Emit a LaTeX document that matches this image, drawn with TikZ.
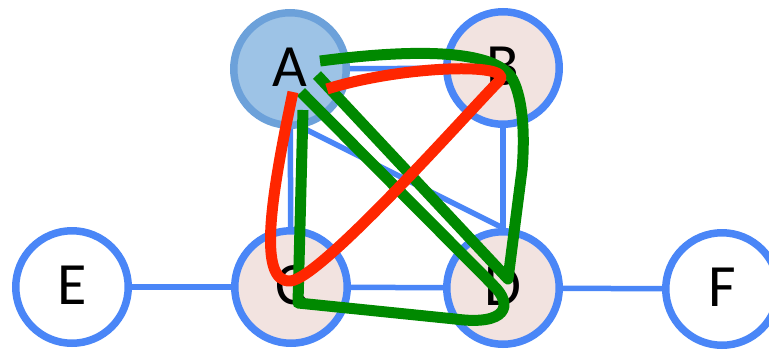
\documentclass[tikz,border=0pt]{standalone}
\usepackage{fontspec}
\setmainfont{Carlito}
\definecolor{eblue}{RGB}{74,134,247}
\definecolor{pinkf}{RGB}{242,227,224}
\definecolor{afill}{RGB}{157,195,230}
\definecolor{astroke}{RGB}{108,161,218}
\definecolor{tgreen}{RGB}{0,137,0}
\definecolor{tred}{RGB}{255,38,0}
\begin{document}
\begin{tikzpicture}[x=1pt,y=-1pt,
  vert/.style={circle,draw=eblue,fill=pinkf,line width=7.5pt,minimum size=112.5pt,inner sep=0pt,font=\fontsize{60}{60}\selectfont},
  edge/.style={draw=eblue,line width=5.5pt},
  gpath/.style={draw=tgreen,line width=11pt,line join=round},
  rpath/.style={draw=tred,line width=11pt,line join=round}]
\useasboundingbox (0,0) rectangle (769,349);
% vertices
\node[vert,fill=afill,draw=astroke] (A) at (290,69) {\raisebox{3pt}{A}};
\node[vert] (B) at (503,68) {\raisebox{3pt}{B}};
\node[vert] (C) at (291,287) {\raisebox{3pt}{C}};
\node[vert] (D) at (503,288) {\raisebox{3pt}{D}};
\node[vert,fill=white] (E) at (72,287) {\raisebox{3pt}{E}};
\node[vert,fill=white] (F) at (722,289) {\raisebox{3pt}{F}};
% edges
\draw[edge] (A) -- (B);
\draw[edge] (A) -- (C);
\draw[edge] (A.-78) -- (D.90);
\draw[edge] (B) -- (D);
\draw[edge] (C) -- (D);
\draw[edge] (E) -- (C);
\draw[edge] (D) -- (F);
% green cycle A-B-D-A
\draw[gpath] (320,61) .. controls (420,48) and (497,50) .. (513,80)
  .. controls (523,100) and (525,135) .. (522,170) -- (508,279) -- (317,75);
% green cycle A-C-D-A
\draw[gpath] (303,110) -- (298,303) -- (455,319)
  .. controls (507,326) and (514,305) .. (493,285) -- (301,92);
% red cycle A-C-B-A
\draw[rpath] (293,92) .. controls (270,200) and (258,282) .. (290,281)
  .. controls (320,280) and (470,110) .. (500,80)
  .. controls (512,62) and (400,66) .. (327,89);
\end{tikzpicture}
\end{document}
